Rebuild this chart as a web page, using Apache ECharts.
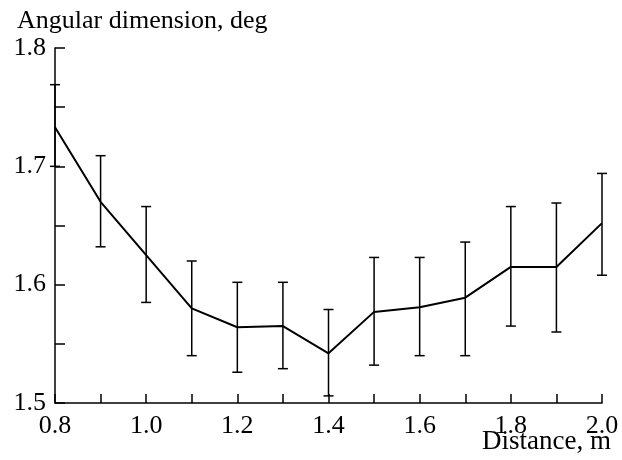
<!DOCTYPE html>
<html>
<head>
<meta charset="utf-8">
<script src="https://cdn.jsdelivr.net/npm/echarts@6/dist/echarts.min.js"></script>
<style>html,body{margin:0;padding:0;background:#fff;}#c{width:622px;height:460px;}</style>
</head>
<body>
<div id="c"></div>
<script>
var distances = [0.8, 0.9, 1.0, 1.1, 1.2, 1.3, 1.4, 1.5, 1.6, 1.7, 1.8, 1.9, 2.0];
var meanValues = [1.733, 1.670, 1.625, 1.580, 1.564, 1.565, 1.542, 1.577, 1.581, 1.589, 1.615, 1.615, 1.652];
var upperValues = [1.769, 1.709, 1.666, 1.620, 1.602, 1.602, 1.579, 1.623, 1.623, 1.636, 1.666, 1.669, 1.694];
var lowerValues = [1.700, 1.632, 1.585, 1.540, 1.526, 1.529, 1.506, 1.532, 1.540, 1.540, 1.565, 1.560, 1.608];
var xTitle = 'Distance, m';
var yTitle = 'Angular dimension, deg';

var fontFam = '"Liberation Serif", "Times New Roman", serif';
var lineData = distances.map(function (d, i) { return [d, meanValues[i]]; });
var errData = distances.map(function (d, i) { return [d, lowerValues[i], upperValues[i]]; });

var chart = echarts.init(document.getElementById('c'));
chart.setOption({
  animation: false,
  backgroundColor: '#fff',
  title: [
    { text: yTitle, left: 12, top: 3, textStyle: { fontFamily: fontFam, fontSize: 26, fontWeight: 'normal', color: '#000' } },
    { text: xTitle, right: 6, bottom: 0, textStyle: { fontFamily: fontFam, fontSize: 27, fontWeight: 'normal', color: '#000' } }
  ],
  grid: { left: 55, right: 20, top: 48, bottom: 57, containLabel: false },
  xAxis: {
    type: 'value', min: 0.8, max: 2.0, interval: 0.1,
    axisLine: { show: true, lineStyle: { color: '#000', width: 1.5 } },
    axisTick: { show: true, inside: true, length: 9, lineStyle: { color: '#000', width: 1.5 } },
    splitLine: { show: false },
    axisLabel: {
      fontFamily: fontFam, fontSize: 26, color: '#000', margin: 10,
      formatter: function (v) { var k = Math.round(v * 10); return k % 2 === 0 ? (k / 10).toFixed(1) : ''; }
    }
  },
  yAxis: {
    type: 'value', min: 1.5, max: 1.8, interval: 0.05,
    axisLine: { show: true, lineStyle: { color: '#000', width: 1.5 } },
    axisTick: { show: true, inside: true, length: 10, lineStyle: { color: '#000', width: 1.5 } },
    splitLine: { show: false },
    axisLabel: {
      fontFamily: fontFam, fontSize: 26, color: '#000', margin: 9,
      formatter: function (v) { var k = Math.round(v * 100); return k % 10 === 0 ? (k / 100).toFixed(1) : ''; }
    }
  },
  series: [
    {
      type: 'line', data: lineData, symbol: 'none',
      lineStyle: { color: '#000', width: 2 }, z: 3
    },
    {
      type: 'custom', data: errData, z: 2,
      renderItem: function (params, api) {
        var x = api.value(0);
        var lo = api.coord([x, api.value(1)]);
        var hi = api.coord([x, api.value(2)]);
        var hw = 5;
        var st = { stroke: '#000', lineWidth: 1.5 };
        return {
          type: 'group',
          children: [
            { type: 'line', shape: { x1: lo[0], y1: lo[1], x2: hi[0], y2: hi[1] }, style: st },
            { type: 'line', shape: { x1: lo[0] - hw, y1: lo[1], x2: lo[0] + hw, y2: lo[1] }, style: st },
            { type: 'line', shape: { x1: hi[0] - hw, y1: hi[1], x2: hi[0] + hw, y2: hi[1] }, style: st }
          ]
        };
      }
    }
  ]
});
</script>
</body>
</html>
